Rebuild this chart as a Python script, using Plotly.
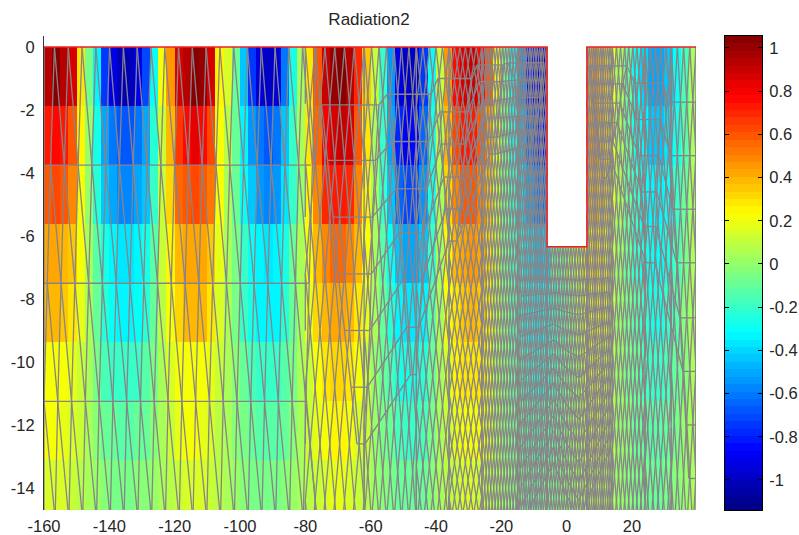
import numpy as np
import plotly.graph_objects as go

# ---------- data ----------
x_edges = [-160 + 2.5 * i for i in range(81)]
y_edges = [0, -1.87, -3.75, -5.62, -7.5, -9.37, -11.25, -13.12, -15]

row1 = [.95,1.03,.95,.85,.3,-.05,-.35,-.75,-.9,-1.02,-1.02,-.9,-.7,-.3,.2,.45,.85,.95,1.03,1.0,.85,.25,.15,-.1,-.45,-.75,-.95,-1.0,-.95,-.6,-.25,.05,.3,.6,.9,1.0,1.03,.95,.7,.35,.1,-.2,-.55,-.9,-1.0,-1.0,-.75,-.3,.1,.45,.75,.85,.9,.75,.6,.2,-.05,-.3,-.55,-.8,-.95,-1.0,0,0,0,0,.4,.45,.35,.2,.05,-.1,-.3,-.4,-.5,-.5,-.45,-.3,-.15,.05]
row2 = [.72,.78,.72,.6,.25,.02,-.25,-.5,-.6,-.68,-.68,-.62,-.5,-.22,.12,.4,.65,.75,.82,.78,.62,.22,.08,-.1,-.35,-.55,-.62,-.66,-.62,-.45,-.2,.03,.28,.55,.8,.88,.9,.85,.6,.3,.05,-.2,-.5,-.78,-.88,-.85,-.65,-.28,.08,.38,.62,.72,.72,.6,.42,.15,-.05,-.25,-.45,-.65,-.78,-.85,0,0,0,0,.42,.45,.35,.2,.05,-.1,-.25,-.35,-.42,-.42,-.38,-.25,-.12,.05]
row3 = [.6,.62,.58,.5,.22,.0,-.22,-.42,-.52,-.58,-.58,-.52,-.42,-.2,.1,.32,.55,.6,.62,.6,.52,.2,.05,-.1,-.3,-.45,-.55,-.58,-.55,-.38,-.18,.02,.25,.48,.68,.72,.72,.68,.5,.25,.03,-.18,-.42,-.65,-.72,-.72,-.55,-.25,.06,.32,.5,.58,.58,.48,.35,.12,-.05,-.2,-.38,-.52,-.62,-.65,0,0,0,0,.38,.4,.32,.18,.03,-.08,-.2,-.3,-.35,-.35,-.3,-.2,-.08,.05]
row4 = [.42,.42,.4,.35,.2,.05,-.12,-.27,-.33,-.36,-.36,-.33,-.26,-.12,.1,.25,.38,.42,.43,.42,.36,.18,.06,-.06,-.2,-.3,-.35,-.36,-.35,-.25,-.1,.05,.2,.38,.5,.55,.55,.5,.38,.2,.05,-.12,-.3,-.45,-.52,-.52,-.42,-.18,.05,.25,.38,.42,.45,.42,.3,.1,-.05,-.15,-.28,-.38,-.42,-.4,-.1,-.05,.05,.12,.28,.3,.25,.12,.02,-.08,-.18,-.25,-.3,-.3,-.25,-.15,-.05,.05]
row5 = [.38,.38,.35,.3,.18,.04,-.1,-.24,-.3,-.33,-.33,-.3,-.22,-.1,.08,.22,.33,.38,.38,.37,.3,.16,.05,-.06,-.18,-.27,-.32,-.33,-.32,-.22,-.08,.05,.18,.32,.4,.43,.42,.4,.3,.18,.04,-.1,-.22,-.33,-.38,-.38,-.32,-.14,.04,.2,.3,.36,.38,.34,.24,.08,-.04,-.12,-.22,-.3,-.32,-.3,-.2,-.12,-.02,.08,.18,.22,.2,.1,.02,-.06,-.14,-.2,-.25,-.25,-.2,-.12,-.03,.05]
row6 = [.22,.22,.2,.18,.12,.03,-.07,-.15,-.18,-.2,-.2,-.18,-.14,-.06,.05,.14,.2,.22,.23,.22,.18,.1,.03,-.04,-.11,-.16,-.19,-.2,-.19,-.14,-.05,.04,.12,.22,.3,.32,.32,.28,.2,.12,.02,-.08,-.17,-.25,-.28,-.28,-.22,-.1,.03,.15,.24,.28,.3,.27,.18,.06,-.03,-.1,-.17,-.22,-.25,-.22,-.15,-.08,-.01,.05,.14,.18,.16,.08,.01,-.05,-.11,-.15,-.18,-.18,-.15,-.08,-.02,.05]
row7 = [.2,.2,.19,.16,.1,.03,-.04,-.09,-.11,-.12,-.12,-.11,-.08,-.03,.05,.12,.18,.2,.2,.19,.16,.09,.03,-.02,-.07,-.1,-.12,-.12,-.12,-.08,-.03,.04,.1,.18,.23,.25,.25,.22,.16,.1,.02,-.05,-.11,-.16,-.18,-.18,-.15,-.06,.03,.11,.18,.22,.23,.2,.13,.05,-.02,-.07,-.11,-.14,-.15,-.14,-.1,-.05,0,.03,.1,.13,.12,.07,.01,-.04,-.08,-.11,-.13,-.13,-.1,-.06,0,.05]
row8 = [.14,.14,.13,.11,.08,.04,0,-.03,-.05,-.05,-.05,-.04,-.02,.01,.05,.09,.12,.13,.13,.13,.11,.07,.03,0,-.03,-.05,-.05,-.05,-.05,-.03,0,.03,.08,.12,.16,.17,.17,.15,.11,.07,.02,-.03,-.07,-.1,-.1,-.1,-.08,-.03,.03,.08,.12,.14,.14,.12,.08,.04,0,-.03,-.06,-.08,-.08,-.07,-.05,-.02,.01,.03,.07,.09,.09,.05,.01,-.02,-.05,-.07,-.08,-.08,-.06,-.03,.02,.06]

outline_x = [-160, -6, -6, 6.2, 6.2, 39.6]
outline_y = [0, 0, -6.34, -6.34, 0, 0]

x_ticks = [-160, -140, -120, -100, -80, -60, -40, -20, 0, 20]
x_labels = ["-160", "-140", "-120", "-100", "-80", "-60", "-40", "-20", "0", "20"]
y_ticks = [0, -2, -4, -6, -8, -10, -12, -14]
y_labels = ["0", "-2", "-4", "-6", "-8", "-10", "-12", "-14"]
cb_ticks = [1, .8, .6, .4, .2, 0, -.2, -.4, -.6, -.8, -1]
cb_labels = ["1", "0.8", "0.6", "0.4", "0.2", "0", "-0.2", "-0.4", "-0.6", "-0.8", "-1"]

# mesh: left block rows (y, first node x)
left_rows = [(0, -156.8), (-3.75, -158), (-7.5, -159), (-11.25, -160), (-15, -156.6)]
left_spacing = 4.22
left_hlines = [(-3.75, -78.3), (-7.5, -79), (-11.25, -79.6)]

# mesh: layered zones, each row (y, x start, x end)
zone1 = [(-1.84,-75,-57.5),(-3.6,-73.2,-58.5),(-5.4,-71.5,-59.5),(-7.2,-70,-59.8),(-9,-68,-60.3),(-10.8,-66,-61),(-12.6,-64.2,-61.7)]
zone2 = [(-1.5,-55,-41.5),(-3,-53.5,-42.2),(-4.5,-52.2,-42.8),(-5.9,-51.3,-43.7),(-7.4,-50.2,-44.3),(-8.9,-49,-45.2),(-10.4,-47.8,-46)]
zone3 = [(-1,-39.4,-29),(-2.06,-38.8,-30.2),(-3.08,-38.2,-31.1),(-4.13,-37.6,-31.7),(-5.14,-37,-32.7),(-6.16,-36,-33.6)]
zone4 = [(-.57,-27.5,-19.5),(-1.1,-26.8,-20),(-1.7,-25.5,-20.5),(-2.25,-25,-21),(-2.86,-24.5,-21.5),(-3.4,-23.5,-22)]
zone5 = [(-.5,-18,-7),(-1.05,-15.8,-7.5),(-1.6,-15.8,-8),(-2.2,-14.8,-9),(-2.64,-14,-9.8),(-3.15,-13,-11)]
zone6 = [(-.6,7,18.4),(-1.17,7.7,17.2),(-1.78,8,16.3),(-2.4,9.3,15.4),(-3,9.6,14.2),(-3.56,10.2,13.5),(-4.15,11.1,12.3)]
zone7 = [(-1.15,20.9,29.5),(-2.3,21.5,28.6),(-3.45,22.1,28.2),(-4.6,23,27.6),(-5.7,23.7,27.3),(-6.85,24.3,27)]
zone8 = [(-1.75,31,39.6),(-3.45,31.9,39.6),(-5.15,32.5,39.6),(-6.85,33.7,39.6),(-8.6,34.7,39.6),(-10.3,35.6,39.6),(-12,36.5,39.6),(-13.7,37.4,39.6)]
zones = [zone1, zone2, zone3, zone4, zone5]
zones_right = [zone6, zone7, zone8]

# mesh: lattice strips (x from, x to, y top, dx, dy)
strips = [(-80,-62,0,3.0,1.8),(-62,-46,0,2.4,1.5),(-46,-36,0,2.1,.95),(-36,-26,0,1.8,.55),
          (-26,-15,0,.95,.5),(-15,-6,0,.78,.42),(-6,6.2,-6.34,.8,.42),(6.2,14,0,.72,.45),
          (14,24,0,1.25,.8),(24,32,0,1.6,1.1),(32,39.6,0,2.0,1.7)]

# mesh: chevron layers under the notch (apex depth, wing drop)
chevrons = [(-7.35,.05),(-7.8,.1),(-8.3,.2),(-8.8,.35),(-9.3,.55),(-9.75,.75),(-10.2,.95),(-10.67,1.15),
            (-11.2,1.35),(-11.7,1.5),(-12.2,1.6),(-12.7,1.7),(-13.2,1.75)]

# ---------- figure building ----------
z = [row1, row2, row3, row4, row5, row6, row7, row8]
zmin, zmax = -1.139, 1.055

def jet(k, n=64):
    t = (k + .5) / n
    f = lambda a: max(0, min(1, 1.5 - abs(4 * t - a)))
    return "rgb(%d,%d,%d)" % (255 * f(3), 255 * f(2), 255 * f(1))

cscale = []
for k in range(64):
    cscale += [[k / 64, jet(k)], [(k + 1) / 64, jet(k)]]

mx, my = [], []
def seg(x0, y0, x1, y1):
    mx.extend([x0, x1, None])
    my.extend([y0, y1, None])

# left block
for (ya, xa), (yb, xb) in zip(left_rows[:-1], left_rows[1:]):
    top = np.arange(xa, -76, left_spacing)
    bot = np.arange(xb, -76, left_spacing)
    for xt in top:
        for xn in bot:
            if -left_spacing * .5 < xn - xt < left_spacing * 1.2:
                seg(xt, ya, xn, yb)
for y, xe in left_hlines:
    seg(-160, y, xe, y)
seg(-160, 0, -160, -15)

# lattice strips
for x0, x1, ytop, dx, dy in strips:
    n = int(round((x1 - x0) / dx))
    step = (x1 - x0) / n
    m = int((ytop + 15) / dy) + 1
    for j in range(m):
        ya = ytop - j * dy
        yb = ya - dy
        for i in range(n + 1):
            a = x0 + i * step + (step / 2 if j % 2 else 0)
            for s in (-.5, .5):
                b = a + s * step
                seg(min(max(a, x0), x1), ya, min(max(b, x0), x1), yb)

# layered zones
for group in (zones, zones_right):
    for zi, zone in enumerate(group):
        for y, a, b in zone:
            seg(a, y, b, y)
        for (ya, a1, b1), (yb, a2, b2) in zip(zone[:-1], zone[1:]):
            seg(a1, ya, a2, yb)
            seg(b1, ya, b2, yb)
        if zi + 1 < len(group):
            for (ya, _, b), (yb, a, _) in zip(zone, group[zi + 1]):
                seg(b, ya, a, yb)

# chevrons
for apex, drop in chevrons:
    xs = [-14, -4, 0, 3.7, 13]
    ys = [apex - drop * 1.1, apex, apex - drop * .6, apex - drop, apex + drop * .2]
    for i in range(4):
        seg(xs[i], ys[i], xs[i + 1], ys[i + 1])

fig = go.Figure()
fig.add_trace(go.Heatmap(x=x_edges, y=y_edges, z=z, zmin=zmin, zmax=zmax, colorscale=cscale,
                         showscale=False, hoverinfo="skip", xaxis="x", yaxis="y"))
fig.add_trace(go.Scatter(x=outline_x, y=outline_y, mode="lines", fill="toself", fillcolor="white",
                         line=dict(width=0), hoverinfo="skip", xaxis="x", yaxis="y"))
fig.add_trace(go.Scatter(x=mx, y=my, mode="lines", line=dict(color="#888488", width=1.3),
                         connectgaps=False, hoverinfo="skip", xaxis="x", yaxis="y"))
fig.add_trace(go.Scatter(x=outline_x, y=outline_y, mode="lines", line=dict(color="#f02020", width=1.5),
                         hoverinfo="skip", xaxis="x", yaxis="y"))

cb_edges = list(np.linspace(zmin, zmax, 65))
cb_levels = [[(a + b) / 2] for a, b in zip(cb_edges[:-1], cb_edges[1:])]
fig.add_trace(go.Heatmap(x=[0, 1], y=cb_edges, z=cb_levels, zmin=zmin, zmax=zmax, colorscale=cscale,
                         showscale=False, hoverinfo="skip", xaxis="x2", yaxis="y2"))

W, H = 799, 535
fam = "Liberation Sans, Arial, sans-serif"
tick_font = dict(family=fam, size=16.5, color="#262626")
dom_y = [(H - 510) / H, (H - 36) / H]
fig.update_layout(
    width=W, height=H, margin=dict(l=0, r=0, t=0, b=0, autoexpand=False), autosize=False,
    paper_bgcolor="white", plot_bgcolor="white", showlegend=False,
    title=dict(text="Radiation2", x=369 / W, y=1 - 19 / H, xanchor="center", yanchor="middle",
               xref="paper", yref="paper", font=dict(family=fam, size=17, color="#262626")),
    xaxis=dict(domain=[44 / W, 696 / W], range=[-160, 39.6], tickvals=x_ticks, ticktext=x_labels, automargin=False,
               tickfont=tick_font, showgrid=False, zeroline=False, ticks="", showline=False, ticklabelstandoff=4),
    yaxis=dict(domain=dom_y, range=[-14.7, .35], tickvals=y_ticks, ticktext=y_labels, showgrid=False, automargin=False,
               tickfont=tick_font, zeroline=False, ticks="", showline=True, linecolor="#333333", linewidth=1,
               ticklabelstandoff=5, layer="below traces"),
    xaxis2=dict(domain=[725 / W, 762 / W], range=[0, 1], showticklabels=False, ticks="", showgrid=False, automargin=False,
                zeroline=False, showline=True, linecolor="black", linewidth=1, mirror=True, anchor="y2"),
    yaxis2=dict(domain=dom_y, range=[zmin, zmax], side="right", anchor="x2", tickvals=cb_ticks, ticktext=cb_labels,
                tickfont=tick_font, automargin=False,
                ticks="inside", ticklen=4, tickcolor="black", showline=True, linecolor="black", linewidth=1,
                mirror="ticks", showgrid=False, zeroline=False, ticklabelstandoff=3),
)
fig.write_html("out.html", config=dict(displayModeBar=False),
               post_script="document.body.style.margin='0';document.body.style.overflow='hidden';")
